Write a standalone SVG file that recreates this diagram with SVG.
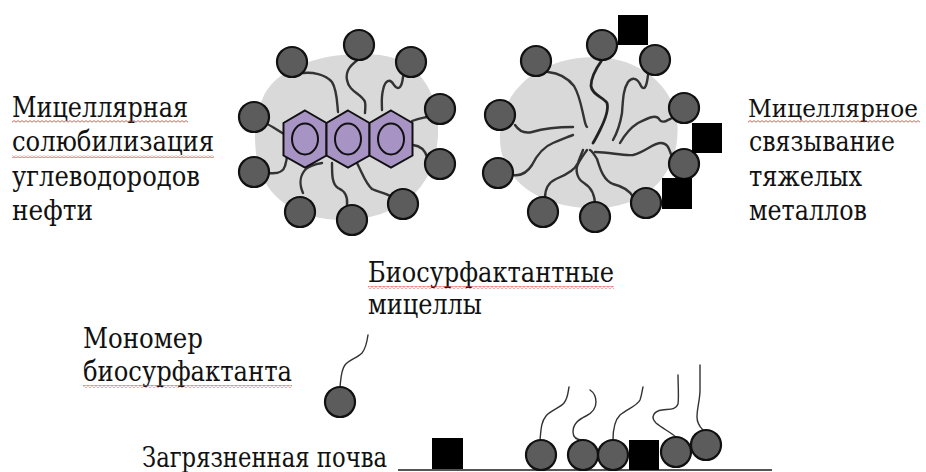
<svg xmlns="http://www.w3.org/2000/svg" width="926" height="472" viewBox="0 0 926 472">
  <defs>
    <pattern id="squiggle" width="4" height="3" patternUnits="userSpaceOnUse">
      <path d="M0,2.2 L2,0.6 L4,2.2" fill="none" stroke="#e03030" stroke-width="0.8"/>
    </pattern>
  </defs>
  <style>
    .blob { fill: #d9d9d9; }
    .head { fill: #5c5c5c; stroke: #111; stroke-width: 2.2; }
    .tail { fill: none; stroke: #333; stroke-width: 2.4; stroke-linecap: round; stroke-linejoin: round; }
    .thin { fill: none; stroke: #333; stroke-width: 1.4; stroke-linecap: round; }
    .ring { fill: #a894c4; stroke: #111; stroke-width: 2; }
    .metal { fill: #000; }
    .wavy { fill: url(#squiggle); }
  </style>
  <rect width="926" height="472" fill="#fff"/>

  <!-- Micelle with solubilised hydrocarbon -->
  <g id="micelle-oil">
    <path class="blob" d="M262,100 C275,65 330,50 380,55 C420,60 440,95 438,135 C436,180 410,215 350,220 C300,222 265,200 257,160 C253,135 255,115 262,100 Z"/>
    <g class="tail">
      <path d="M303,73 C312,72 325,74 332,82 C337,90 337,102 338,112"/>
      <path d="M359,59 C352,64 345,70 347,80 C349,92 362,94 365,102 C366,106 365,110 365,113"/>
      <path d="M403,77 C402,86 399,92 394,85 C390,78 385,80 383,90 C381,98 382,105 382,110"/>
      <path d="M427,117 C422,118 419,118 412,121"/>
      <path d="M427,157 C425,150 421,146 413,145"/>
      <path d="M392,197 C386,193 378,192 372,189 C366,184 364,177 357,163"/>
      <path d="M347,205 C348,197 345,191 338,188 C332,184 332,175 332,163"/>
      <path d="M303,193 C299,184 300,175 306,169 C310,165 316,164 322,163"/>
      <path d="M268,173 C276,174 283,173 285,166 C287,160 287,156 287,153"/>
      <path d="M265,123 C272,126 277,130 284,134"/>
    </g>
    <g>
      <polygon class="ring" points="305,110.5 326.5,123 326.5,155.5 305,167.5 283.5,155.5 283.5,123"/>
      <polygon class="ring" points="348,110.5 369.5,123 369.5,155.5 348,167.5 326.5,155.5 326.5,123"/>
      <polygon class="ring" points="391,110.5 412.5,123 412.5,155.5 391,167.5 369.5,155.5 369.5,123"/>
      <ellipse class="ring" cx="305" cy="139" rx="13" ry="15.5"/>
      <ellipse class="ring" cx="348" cy="139" rx="13" ry="15.5"/>
      <ellipse class="ring" cx="391" cy="139" rx="13" ry="15.5"/>
    </g>
    <g>
      <circle class="head" cx="292" cy="62" r="15"/>
      <circle class="head" cx="359" cy="45" r="15"/>
      <circle class="head" cx="411" cy="62" r="15"/>
      <circle class="head" cx="440" cy="109" r="15"/>
      <circle class="head" cx="440" cy="164" r="15"/>
      <circle class="head" cx="403" cy="204" r="15"/>
      <circle class="head" cx="352" cy="220" r="15"/>
      <circle class="head" cx="300" cy="212" r="15"/>
      <circle class="head" cx="254" cy="172" r="15"/>
      <circle class="head" cx="254" cy="117" r="15"/>
    </g>
  </g>

  <!-- Micelle binding heavy metal ions -->
  <g id="micelle-metal">
    <path class="blob" d="M503,115 C515,75 555,57 595,57 C640,58 672,85 677,120 C682,165 655,205 600,208 C545,210 508,185 501,150 C499,135 500,125 503,115 Z"/>
    <g class="tail">
      <path d="M548,72 C558,73 567,77 574,86 C580,96 582,110 584,118 C585,123 586,126 587,127"/>
      <path d="M602,60 C597,67 591,76 591,86 C592,95 603,97 607,103 C609,110 605,120 600,130 C597,136 595,140 593,143" stroke-width="2.8" stroke="#222"/>
      <path d="M648,75 C647,84 645,92 641,86 C638,79 633,76 628,82 C623,90 623,100 622,113 C620,125 617,133 613,140"/>
      <path d="M672,118 C666,121 662,124 659,119 C656,114 648,118 638,123 C630,128 624,136 620,143"/>
      <path d="M672,157 C669,149 668,143 661,143 C653,143 645,152 633,155 C622,156 610,152 595,152"/>
      <path d="M633,197 C630,191 625,187 613,184 C603,180 600,168 597,159 C594,154 592,151 590,150"/>
      <path d="M595,205 C595,195 592,188 584,183 C577,179 575,170 578,164 C581,158 585,153 587,150"/>
      <path d="M545,198 C545,190 547,183 556,179 C566,175 575,170 578,163 C580,157 582,153 583,150"/>
      <path d="M513,175 C520,176 527,173 532,165 C537,155 543,147 553,143 C561,140 567,137 573,135"/>
      <path d="M515,125 C519,131 524,134 532,132 C542,129 555,127 573,127"/>
    </g>
    <g>
      <circle class="head" cx="536" cy="61" r="15"/>
      <circle class="head" cx="602" cy="45" r="15"/>
      <circle class="head" cx="655" cy="60" r="15"/>
      <circle class="head" cx="684" cy="108" r="15"/>
      <circle class="head" cx="684" cy="164" r="15"/>
      <circle class="head" cx="646" cy="203" r="15"/>
      <circle class="head" cx="595" cy="217" r="15"/>
      <circle class="head" cx="543" cy="212" r="15"/>
      <circle class="head" cx="498" cy="173" r="15"/>
      <circle class="head" cx="500" cy="115" r="15"/>
    </g>
    <rect class="metal" x="618" y="15" width="30" height="30"/>
    <rect class="metal" x="692" y="123" width="30" height="30"/>
    <rect class="metal" x="662" y="178" width="30" height="31"/>
  </g>

  <!-- Free biosurfactant monomer -->
  <g id="monomer">
    <path class="thin" d="M340,387 C341,378 341,370 345,365 C349,360 357,358 362,353 C366,348 367,342 368,335"/>
    <circle class="head" cx="340" cy="402" r="15"/>
  </g>

  <!-- Contaminated soil surface with adsorbed monomers and metal particles -->
  <g id="soil">
    <line x1="398" y1="470" x2="772" y2="470" stroke="#555" stroke-width="2"/>
    <rect class="metal" x="432" y="438" width="31" height="31"/>
    <g>
      <path class="thin" d="M540,440 C541,430 541,422 546,416 C551,410 560,408 564,403 C568,398 568,392 569,387"/>
      <path class="thin" d="M583,440 C578,440 573,438 573,432 C573,424 578,420 586,416 C592,413 596,409 596,402 C596,396 593,392 590,390"/>
      <path class="thin" d="M613,440 C613,430 614,421 620,415 C627,409 637,406 640,400 C642,394 642,391 643,387"/>
      <path class="thin" d="M676,437 C670,432 662,428 656,423 C650,417 654,411 662,410 C670,409 676,410 678,404 C679,396 678,385 678,375"/>
      <path class="thin" d="M703,430 C700,427 697,423 697,417 C697,408 700,400 700,390 C700,380 700,372 700,365"/>
    </g>
    <circle class="head" cx="541" cy="455" r="15"/>
    <circle class="head" cx="583" cy="455" r="15"/>
    <circle class="head" cx="613" cy="455" r="15"/>
    <rect class="metal" x="629" y="440" width="30" height="30"/>
    <circle class="head" cx="676" cy="452" r="15"/>
    <circle class="head" cx="706" cy="445" r="15"/>
  </g>

  <!-- Captions -->
  <g font-family="DejaVu Serif, serif" font-size="27" fill="#111">
    <g id="label-oil">
      <text x="12" y="117" textLength="176" lengthAdjust="spacingAndGlyphs">Мицеллярная</text>
      <text x="12" y="151" textLength="202" lengthAdjust="spacingAndGlyphs">солюбилизация</text>
      <text x="12" y="186" textLength="188" lengthAdjust="spacingAndGlyphs">углеводородов</text>
      <text x="12" y="220" textLength="81" lengthAdjust="spacingAndGlyphs">нефти</text>
      <rect class="wavy" x="12" y="120" width="176" height="3"/>
      <rect class="wavy" x="12" y="155" width="202" height="3"/>
    </g>
    <g id="label-metal">
      <text x="748" y="117" font-size="24.5" textLength="170" lengthAdjust="spacingAndGlyphs">Мицеллярное</text>
      <text x="749" y="151" textLength="146" lengthAdjust="spacingAndGlyphs">связывание</text>
      <text x="749" y="186" textLength="113" lengthAdjust="spacingAndGlyphs">тяжелых</text>
      <text x="749" y="220" textLength="118" lengthAdjust="spacingAndGlyphs">металлов</text>
      <rect class="wavy" x="748" y="120" width="172" height="3"/>
    </g>
    <g id="label-micelles">
      <text x="368" y="282" textLength="246" lengthAdjust="spacingAndGlyphs">Биосурфактантные</text>
      <text x="368" y="314" textLength="114" lengthAdjust="spacingAndGlyphs">мицеллы</text>
      <rect class="wavy" x="368" y="286" width="246" height="3"/>
    </g>
    <g id="label-monomer">
      <text x="83" y="348" textLength="120" lengthAdjust="spacingAndGlyphs">Мономер</text>
      <text x="83" y="381" textLength="209" lengthAdjust="spacingAndGlyphs">биосурфактанта</text>
      <rect class="wavy" x="83" y="385" width="209" height="3"/>
    </g>
    <g id="label-soil">
      <text x="142" y="467" textLength="245" lengthAdjust="spacingAndGlyphs">Загрязненная почва</text>
    </g>
  </g>
</svg>
